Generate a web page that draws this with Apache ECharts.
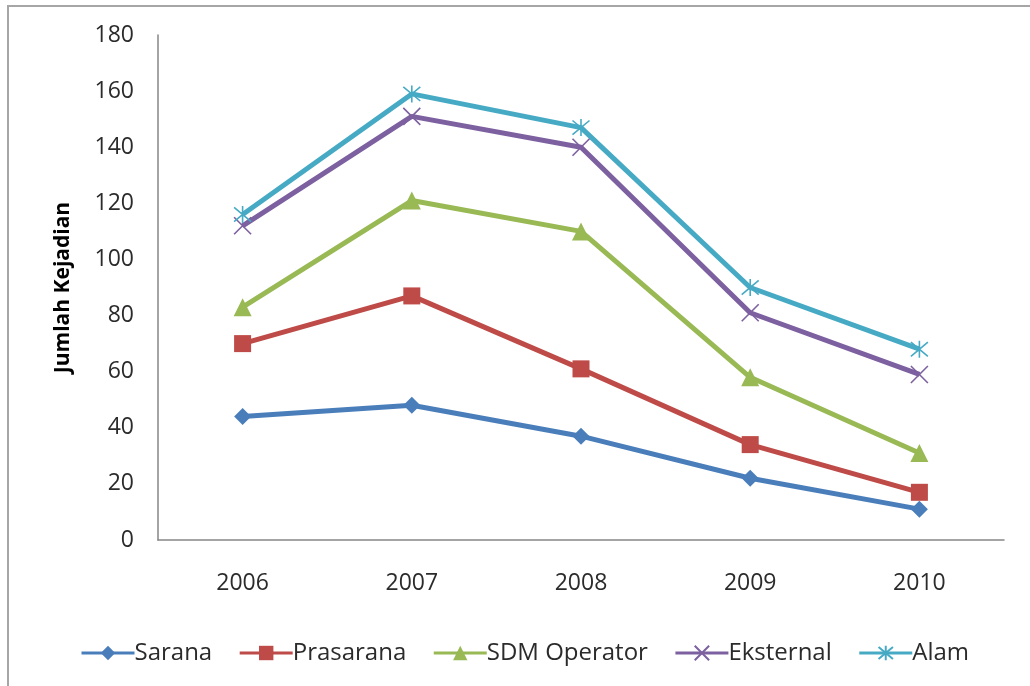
<!DOCTYPE html>
<html>
<head>
<meta charset="utf-8">
<script src="https://cdn.jsdelivr.net/npm/echarts@6/dist/echarts.min.js"></script>
<style>
  html, body { margin: 0; padding: 0; background: #ffffff; }
  #chart { width: 1030px; height: 686px; }
</style>
</head>
<body>
<div id="chart"></div>
<script>
// Jumlah kejadian per tahun, per penyebab
const years = ['2006', '2007', '2008', '2009', '2010'];
const sarana = [44, 48, 37, 22, 11];
const prasarana = [70, 87, 61, 34, 17];
const sdmOperator = [83, 121, 110, 58, 31];
const eksternal = [112, 151, 140, 81, 59];
const alam = [116, 159, 147, 90, 68];
const yTicks = { min: 0, max: 180, interval: 20 };

const FONT = '"Open Sans", "Noto Sans", sans-serif';
const TEXT = '#2b2b2b';

// Cross and asterisk markers drawn as stroked paths
const crossPath = 'path://M0,0L10,10M10,0L0,10';
const starPath = 'path://M0,0L10,10M10,0L0,10M5,-1L5,11';

function lineSeries(name, data, color, symbol, size, stroked) {
  return {
    name: name,
    type: 'line',
    data: data,
    symbol: symbol,
    symbolSize: size,
    showSymbol: true,
    lineStyle: { color: color, width: 5 },
    itemStyle: stroked
      ? { color: 'transparent', borderColor: color, borderWidth: 1.6, opacity: 1 }
      : { color: color, borderWidth: 0 },
    emphasis: { disabled: true },
    animation: false
  };
}

const chart = echarts.init(document.getElementById('chart'), null, { renderer: 'canvas' });
chart.setOption({
  backgroundColor: '#ffffff',
  textStyle: { fontFamily: FONT },
  graphic: [{
    type: 'rect',
    shape: { x: 8, y: 6, width: 1100, height: 1000 },
    style: { fill: 'none', stroke: '#a6a6a6', lineWidth: 2 },
    silent: true,
    z: -10
  }],
  grid: { left: 158, right: 26, top: 35, bottom: 146, containLabel: false },
  legend: {
    bottom: 21,
    left: 80,
    padding: 0,
    itemWidth: 53,
    itemHeight: 18,
    itemGap: 26,
    lineStyle: { width: 3 },
    textStyle: { fontFamily: FONT, fontSize: 24, color: TEXT, padding: [0, 0, 0, -5] },
    data: ['Sarana', 'Prasarana', 'SDM Operator', 'Eksternal', 'Alam']
  },
  xAxis: {
    type: 'category',
    data: years,
    boundaryGap: true,
    axisLine: { show: true, lineStyle: { color: '#868686', width: 1.5 } },
    axisTick: { show: false },
    axisLabel: { margin: 32, fontSize: 23, color: TEXT, fontFamily: FONT },
    splitLine: { show: false }
  },
  yAxis: {
    type: 'value',
    min: yTicks.min,
    max: yTicks.max,
    interval: yTicks.interval,
    name: 'Jumlah Kejadian',
    nameLocation: 'middle',
    nameGap: 84,
    nameRotate: 90,
    nameTextStyle: { fontFamily: FONT, fontSize: 21, fontWeight: 'bold', color: '#000000' },
    axisLine: { show: true, lineStyle: { color: '#868686', width: 1.5 } },
    axisTick: { show: false },
    axisLabel: { margin: 24, fontSize: 23, color: TEXT, fontFamily: FONT },
    splitLine: { show: false }
  },
  series: [
    lineSeries('Sarana', sarana, '#4a7ebb', 'diamond', 17, false),
    lineSeries('Prasarana', prasarana, '#be4b48', 'rect', 17, false),
    lineSeries('SDM Operator', sdmOperator, '#98b954', 'triangle', 18, false),
    lineSeries('Eksternal', eksternal, '#7d60a0', crossPath, 17, true),
    lineSeries('Alam', alam, '#46aac5', starPath, 17, true)
  ]
});
</script>
</body>
</html>
